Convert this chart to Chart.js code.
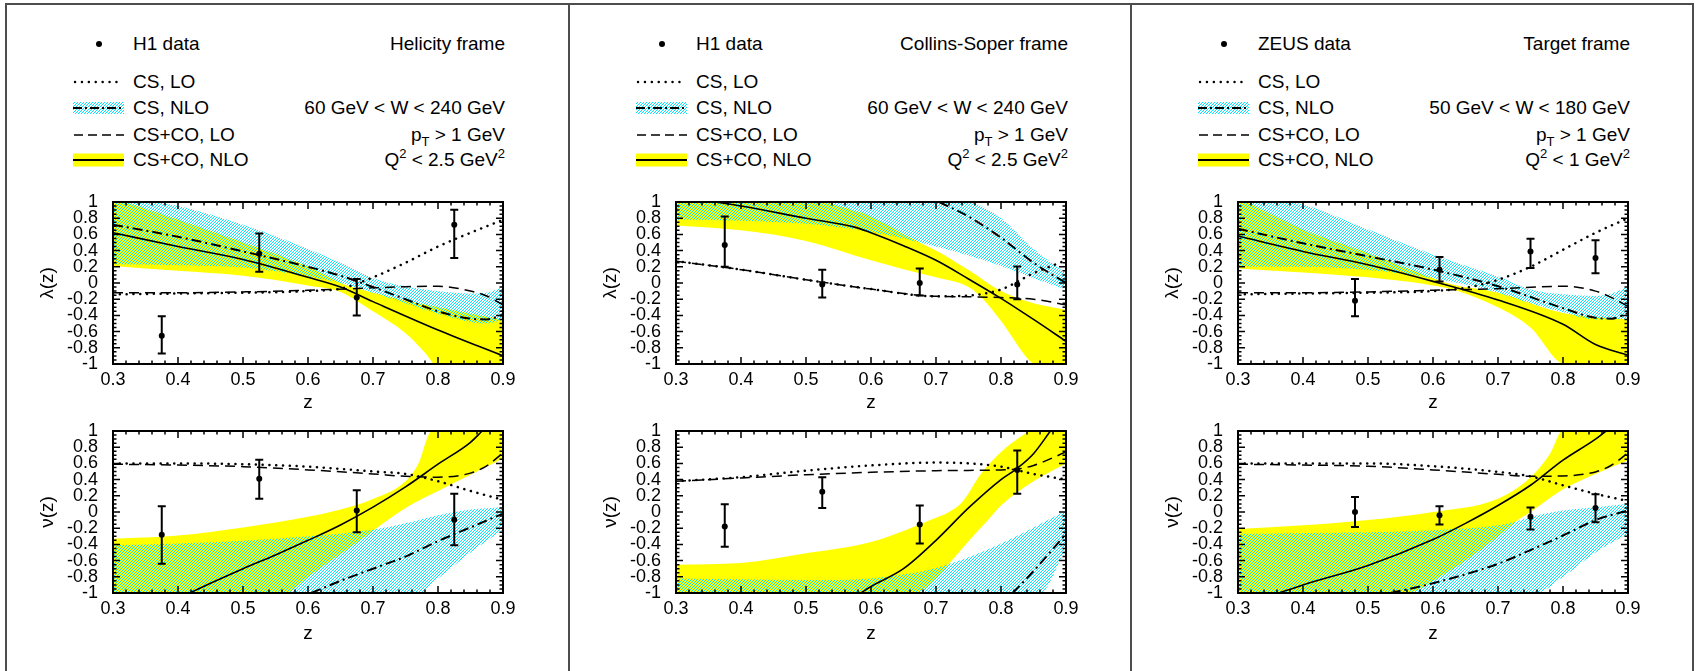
<!DOCTYPE html>
<html>
<head>
<meta charset="utf-8">
<script src="https://cdn.jsdelivr.net/npm/chart.js@4.4.1/dist/chart.umd.min.js"></script>
<style>
  body { margin: 0; background: #fff; overflow: hidden; font-family: "Liberation Sans", Arial, sans-serif; }
  #page { position: relative; width: 1697px; height: 671px; overflow: hidden; }
  .box { position: absolute; left: 5px; top: 3px; width: 1689px; height: 720px; border: 2px solid #4d4d4d; box-sizing: border-box; }
  .divider { position: absolute; top: 3px; width: 2px; height: 668px; background: #4d4d4d; }
  .txt { position: absolute; font-size: 19px; line-height: 20px; white-space: nowrap; color: #000; }
  .right { text-align: right; width: 320px; }
  .sub { font-size: 13px; position: relative; top: 5px; }
  .sup { font-size: 13px; position: relative; top: -8px; }
  canvas, svg { position: absolute; }
</style>
</head>
<body>
<div id="page">
  <div class="box"></div>
  <div class="divider" style="left:568px"></div>
  <div class="divider" style="left:1130px"></div>
</div>
<script>
// --- AXES ---
const zTicks = [0.3, 0.4, 0.5, 0.6, 0.7, 0.8, 0.9];
const valTicks = [-1, -0.8, -0.6, -0.4, -0.2, 0, 0.2, 0.4, 0.6, 0.8, 1];

// --- TEXTS ---
const expNames = ["H1 data", "H1 data", "ZEUS data"];
const frameNames = ["Helicity frame", "Collins-Soper frame", "Target frame"];
const wRanges = ["60 GeV &lt; W &lt; 240 GeV", "60 GeV &lt; W &lt; 240 GeV", "50 GeV &lt; W &lt; 180 GeV"];
const q2Cuts = ["2.5", "2.5", "1"];
const curveNames = ["CS, LO", "CS, NLO", "CS+CO, LO", "CS+CO, NLO"];

// --- HELICITY FRAME, lambda ---
const helLamZ = [0.375, 0.525, 0.675, 0.825];
const helLamVal = [-0.65, 0.36, -0.18, 0.72];
const helLamLo = [-0.87, 0.14, -0.40, 0.31];
const helLamHi = [-0.41, 0.61, 0.05, 0.905];
const helLamCsLo = [[0.3,-0.14],[0.4,-0.13],[0.5,-0.12],[0.6,-0.1],[0.65,-0.07],[0.7,0.07],[0.75,0.25],[0.8,0.45],[0.85,0.62],[0.9,0.78]];
const helLamCsNlo = [[0.3,0.72],[0.4,0.57],[0.5,0.39],[0.6,0.2],[0.65,0.09],[0.7,-0.05],[0.75,-0.2],[0.8,-0.35],[0.85,-0.44],[0.875,-0.45],[0.9,-0.39]];
const helLamCsNloUp = [[0.3,1.1],[0.4,0.95],[0.5,0.72],[0.6,0.42],[0.65,0.25],[0.7,0.06],[0.75,-0.04],[0.8,-0.1],[0.85,-0.13],[0.875,-0.12],[0.9,-0.05]];
const helLamCsNloDn = [[0.3,0.23],[0.4,0.22],[0.5,0.19],[0.6,0.08],[0.65,0.0],[0.7,-0.12],[0.75,-0.25],[0.8,-0.38],[0.85,-0.48],[0.875,-0.5],[0.9,-0.45]];
const helLamCoLo = [[0.3,-0.12],[0.4,-0.12],[0.5,-0.11],[0.6,-0.09],[0.7,-0.06],[0.75,-0.045],[0.8,-0.04],[0.85,-0.1],[0.875,-0.16],[0.9,-0.27]];
const helLamCoNlo = [[0.3,0.62],[0.4,0.45],[0.5,0.29],[0.6,0.07],[0.65,-0.05],[0.7,-0.23],[0.8,-0.58],[0.9,-0.9]];
const helLamCoNloUp = [[0.3,1.05],[0.4,0.78],[0.5,0.5],[0.6,0.2],[0.65,0.0],[0.7,-0.12],[0.75,-0.22],[0.8,-0.3],[0.85,-0.38],[0.9,-0.45]];
const helLamCoNloDn = [[0.3,0.21],[0.4,0.15],[0.5,0.09],[0.6,-0.03],[0.65,-0.11],[0.7,-0.35],[0.75,-0.62],[0.78,-0.86],[0.8,-1.05],[0.9,-1.2]];

// --- HELICITY FRAME, nu ---
const helNuZ = [0.375, 0.525, 0.675, 0.825];
const helNuVal = [-0.28, 0.41, 0.02, -0.095];
const helNuLo = [-0.64, 0.165, -0.25, -0.41];
const helNuHi = [0.07, 0.646, 0.267, 0.226];
const helNuCsLo = [[0.3,0.6],[0.4,0.6],[0.5,0.59],[0.6,0.56],[0.7,0.5],[0.75,0.47],[0.8,0.38],[0.85,0.26],[0.9,0.15]];
const helNuCsNlo = [[0.605,-1.0],[0.65,-0.85],[0.7,-0.7],[0.75,-0.55],[0.8,-0.36],[0.85,-0.19],[0.9,-0.02]];
const helNuCsNloUp = [[0.3,-0.41],[0.4,-0.39],[0.5,-0.355],[0.6,-0.3],[0.7,-0.22],[0.75,-0.14],[0.8,-0.04],[0.85,0.03],[0.9,0.06]];
const helNuCsNloDn = [[0.3,-1.1],[0.77,-1.0],[0.8,-0.82],[0.85,-0.5],[0.9,-0.22]];
const helNuCoLo = [[0.3,0.59],[0.4,0.58],[0.5,0.56],[0.6,0.52],[0.7,0.47],[0.75,0.44],[0.8,0.43],[0.85,0.48],[0.875,0.57],[0.9,0.73]];
const helNuCoNlo = [[0.418,-1.0],[0.45,-0.88],[0.5,-0.7],[0.55,-0.53],[0.6,-0.35],[0.65,-0.16],[0.7,0.06],[0.75,0.31],[0.8,0.59],[0.85,0.86],[0.868,1.0]];
const helNuCoNloUp = [[0.3,-0.33],[0.4,-0.29],[0.5,-0.19],[0.6,-0.06],[0.65,0.03],[0.7,0.16],[0.75,0.38],[0.77,0.6],[0.79,1.0],[0.9,1.1]];
const helNuCoNloDn = [[0.3,-1.05],[0.565,-1.0],[0.6,-0.8],[0.65,-0.52],[0.7,-0.23],[0.75,0.05],[0.8,0.26],[0.85,0.46],[0.9,0.66]];

// --- COLLINS-SOPER FRAME, lambda ---
const csLamZ = [0.375, 0.525, 0.675, 0.825];
const csLamVal = [0.47, -0.02, 0.0, -0.02];
const csLamLo = [0.2, -0.18, -0.155, -0.2];
const csLamHi = [0.82, 0.165, 0.18, 0.205];
const csLamCsLo = [[0.3,0.27],[0.4,0.165],[0.5,0.04],[0.6,-0.075],[0.7,-0.165],[0.75,-0.155],[0.8,-0.08],[0.85,0.12],[0.9,0.28]];
const csLamCsNlo = [[0.705,1.0],[0.75,0.82],[0.8,0.56],[0.85,0.25],[0.9,0.0]];
const csLamCsNloUp = [[0.3,1.1],[0.74,1.02],[0.8,0.8],[0.85,0.42],[0.9,0.12]];
const csLamCsNloDn = [[0.3,0.78],[0.4,0.77],[0.5,0.73],[0.6,0.63],[0.65,0.55],[0.7,0.45],[0.75,0.34],[0.8,0.21],[0.85,0.06],[0.9,-0.08]];
const csLamCoLo = [[0.3,0.27],[0.4,0.165],[0.5,0.04],[0.6,-0.075],[0.7,-0.165],[0.75,-0.17],[0.8,-0.18],[0.85,-0.2],[0.9,-0.27]];
const csLamCoNlo = [[0.36,1.0],[0.4,0.95],[0.5,0.8],[0.575,0.69],[0.6,0.62],[0.65,0.46],[0.7,0.28],[0.75,0.05],[0.8,-0.19],[0.85,-0.45],[0.9,-0.72]];
const csLamCoNloUp = [[0.3,1.05],[0.5,1.05],[0.55,0.95],[0.6,0.82],[0.65,0.6],[0.7,0.4],[0.75,0.16],[0.8,-0.1],[0.85,-0.25],[0.9,-0.33]];
const csLamCoNloDn = [[0.3,0.71],[0.4,0.65],[0.5,0.52],[0.6,0.28],[0.65,0.17],[0.7,0.07],[0.75,-0.05],[0.77,-0.18],[0.8,-0.47],[0.85,-1.0],[0.9,-1.1]];

// --- COLLINS-SOPER FRAME, nu ---
const csNuZ = [0.375, 0.525, 0.675, 0.825];
const csNuVal = [-0.18, 0.25, -0.155, 0.52];
const csNuLo = [-0.43, 0.05, -0.39, 0.225];
const csNuHi = [0.095, 0.43, 0.08, 0.76];
const csNuCsLo = [[0.3,0.38],[0.4,0.43],[0.5,0.51],[0.6,0.575],[0.7,0.61],[0.75,0.6],[0.8,0.56],[0.85,0.47],[0.9,0.4]];
const csNuCsNlo = [[0.818,-1.0],[0.85,-0.73],[0.9,-0.27]];
const csNuCsNloUp = [[0.3,-0.82],[0.4,-0.83],[0.5,-0.84],[0.6,-0.82],[0.65,-0.77],[0.7,-0.69],[0.75,-0.56],[0.8,-0.39],[0.85,-0.19],[0.9,0.02]];
const csNuCsNloDn = [[0.3,-1.1],[0.86,-1.0],[0.9,-0.45]];
const csNuCoLo = [[0.3,0.38],[0.4,0.42],[0.5,0.46],[0.6,0.49],[0.7,0.51],[0.8,0.52],[0.825,0.53],[0.85,0.575],[0.9,0.74]];
const csNuCoNlo = [[0.584,-1.0],[0.6,-0.92],[0.65,-0.7],[0.7,-0.35],[0.75,0.05],[0.8,0.4],[0.825,0.54],[0.85,0.72],[0.876,1.0]];
const csNuCoNloUp = [[0.3,-0.65],[0.4,-0.63],[0.5,-0.51],[0.6,-0.37],[0.7,-0.07],[0.72,0.0],[0.74,0.12],[0.77,0.48],[0.8,0.74],[0.83,0.93],[0.85,1.02],[0.9,1.1]];
const csNuCoNloDn = [[0.3,-1.1],[0.667,-1.0],[0.7,-0.82],[0.72,-0.64],[0.75,-0.36],[0.78,-0.1],[0.8,0.08],[0.85,0.38],[0.9,0.6]];

// --- TARGET FRAME, lambda ---
const tgLamZ = [0.48, 0.61, 0.75, 0.85];
const tgLamVal = [-0.22, 0.165, 0.39, 0.31];
const tgLamLo = [-0.41, 0.02, 0.185, 0.12];
const tgLamHi = [0.05, 0.32, 0.547, 0.527];
const tgLamCsLo = [[0.3,-0.14],[0.4,-0.13],[0.5,-0.12],[0.6,-0.1],[0.65,-0.06],[0.7,0.04],[0.75,0.2],[0.8,0.41],[0.85,0.62],[0.9,0.8]];
const tgLamCsNlo = [[0.3,0.67],[0.4,0.49],[0.5,0.33],[0.6,0.165],[0.7,-0.04],[0.8,-0.31],[0.85,-0.43],[0.875,-0.44],[0.9,-0.37]];
const tgLamCsNloUp = [[0.3,1.1],[0.4,0.97],[0.5,0.66],[0.6,0.35],[0.7,0.08],[0.75,-0.08],[0.8,-0.14],[0.85,-0.16],[0.875,-0.13],[0.9,-0.04]];
const tgLamCsNloDn = [[0.3,0.2],[0.4,0.2],[0.5,0.16],[0.6,0.06],[0.65,-0.02],[0.7,-0.12],[0.75,-0.25],[0.8,-0.36],[0.85,-0.45],[0.9,-0.44]];
const tgLamCoLo = [[0.3,-0.12],[0.4,-0.12],[0.5,-0.11],[0.6,-0.09],[0.7,-0.07],[0.8,-0.04],[0.85,-0.1],[0.875,-0.18],[0.9,-0.29]];
const tgLamCoNlo = [[0.3,0.58],[0.4,0.39],[0.5,0.225],[0.6,0.02],[0.7,-0.21],[0.8,-0.51],[0.85,-0.76],[0.9,-0.89]];
const tgLamCoNloUp = [[0.3,1.05],[0.4,0.66],[0.5,0.37],[0.6,0.06],[0.63,-0.02],[0.7,-0.12],[0.8,-0.37],[0.9,-0.45]];
const tgLamCoNloDn = [[0.3,0.18],[0.4,0.13],[0.5,0.07],[0.6,-0.03],[0.63,-0.08],[0.7,-0.3],[0.75,-0.55],[0.8,-1.0],[0.9,-1.1]];

// --- TARGET FRAME, nu ---
const tgNuZ = [0.48, 0.61, 0.75, 0.85];
const tgNuVal = [0.0, -0.04, -0.06, 0.05];
const tgNuLo = [-0.185, -0.155, -0.215, -0.125];
const tgNuHi = [0.185, 0.07, 0.055, 0.22];
const tgNuCsLo = [[0.3,0.6],[0.4,0.6],[0.5,0.6],[0.6,0.565],[0.7,0.495],[0.75,0.44],[0.8,0.33],[0.85,0.225],[0.9,0.135]];
const tgNuCsNlo = [[0.535,-1.0],[0.6,-0.88],[0.7,-0.64],[0.75,-0.47],[0.8,-0.29],[0.85,-0.1],[0.9,0.02]];
const tgNuCsNloUp = [[0.3,-0.27],[0.4,-0.26],[0.5,-0.25],[0.6,-0.225],[0.7,-0.165],[0.727,-0.12],[0.75,-0.06],[0.8,0.02],[0.85,0.06],[0.9,0.1]];
const tgNuCsNloDn = [[0.3,-1.1],[0.76,-1.0],[0.8,-0.8],[0.85,-0.5],[0.9,-0.27]];
const tgNuCoLo = [[0.3,0.59],[0.4,0.58],[0.5,0.565],[0.6,0.52],[0.7,0.465],[0.75,0.44],[0.8,0.445],[0.85,0.495],[0.875,0.58],[0.9,0.73]];
const tgNuCoNlo = [[0.363,-1.0],[0.4,-0.9],[0.5,-0.66],[0.6,-0.34],[0.65,-0.14],[0.7,0.08],[0.75,0.33],[0.8,0.64],[0.85,0.9],[0.866,1.0]];
const tgNuCoNloUp = [[0.3,-0.21],[0.4,-0.165],[0.5,-0.1],[0.6,0.0],[0.7,0.165],[0.75,0.43],[0.78,0.72],[0.8,1.02],[0.9,1.1]];
const tgNuCoNloDn = [[0.3,-1.1],[0.563,-1.0],[0.6,-0.85],[0.65,-0.6],[0.7,-0.3],[0.727,-0.12],[0.75,0.0],[0.8,0.28],[0.85,0.47],[0.9,0.64]];

// --- LAYOUT ---
const plotLefts = [113, 676, 1238];
const plotTops = [202, 431];
const titlePads = [10, 8];
const PW = 390, PH = 162;
const AXW = 85, PADT = 12, PADR = 15, AXH = 60;
const legendHeadY = 44;
const legendRowY = [82, 108, 135, 160];
const FONT = "'Liberation Sans', Arial, sans-serif";
const CYAN = "#00e4ff";
const YELLOW = "#ffff00";

const plots = [
  { col: 0, row: 0, title: "λ(z)", z: helLamZ, val: helLamVal, lo: helLamLo, hi: helLamHi, csLo: helLamCsLo, csNlo: helLamCsNlo, csUp: helLamCsNloUp, csDn: helLamCsNloDn, coLo: helLamCoLo, coNlo: helLamCoNlo, coUp: helLamCoNloUp, coDn: helLamCoNloDn },
  { col: 0, row: 1, title: "ν(z)", z: helNuZ, val: helNuVal, lo: helNuLo, hi: helNuHi, csLo: helNuCsLo, csNlo: helNuCsNlo, csUp: helNuCsNloUp, csDn: helNuCsNloDn, coLo: helNuCoLo, coNlo: helNuCoNlo, coUp: helNuCoNloUp, coDn: helNuCoNloDn },
  { col: 1, row: 0, title: "λ(z)", z: csLamZ, val: csLamVal, lo: csLamLo, hi: csLamHi, csLo: csLamCsLo, csNlo: csLamCsNlo, csUp: csLamCsNloUp, csDn: csLamCsNloDn, coLo: csLamCoLo, coNlo: csLamCoNlo, coUp: csLamCoNloUp, coDn: csLamCoNloDn },
  { col: 1, row: 1, title: "ν(z)", z: csNuZ, val: csNuVal, lo: csNuLo, hi: csNuHi, csLo: csNuCsLo, csNlo: csNuCsNlo, csUp: csNuCsNloUp, csDn: csNuCsNloDn, coLo: csNuCoLo, coNlo: csNuCoNlo, coUp: csNuCoNloUp, coDn: csNuCoNloDn },
  { col: 2, row: 0, title: "λ(z)", z: tgLamZ, val: tgLamVal, lo: tgLamLo, hi: tgLamHi, csLo: tgLamCsLo, csNlo: tgLamCsNlo, csUp: tgLamCsNloUp, csDn: tgLamCsNloDn, coLo: tgLamCoLo, coNlo: tgLamCoNlo, coUp: tgLamCoNloUp, coDn: tgLamCoNloDn },
  { col: 2, row: 1, title: "ν(z)", z: tgNuZ, val: tgNuVal, lo: tgNuLo, hi: tgNuHi, csLo: tgNuCsLo, csNlo: tgNuCsNlo, csUp: tgNuCsNloUp, csDn: tgNuCsNloDn, coLo: tgNuCoLo, coNlo: tgNuCoNlo, coUp: tgNuCoNloUp, coDn: tgNuCoNloDn }
];

const page = document.getElementById("page");

// --- HATCH PATTERN ---
function hatchTile() {
  const c = document.createElement("canvas");
  c.width = 3; c.height = 3;
  const g = c.getContext("2d");
  g.fillStyle = CYAN;
  for (let i = 0; i < 3; i++) g.fillRect(i, 2 - i, 1, 1);
  return c;
}
const tile = hatchTile();

// --- LEGENDS ---
function addText(html, x, y, cls) {
  const d = document.createElement("div");
  d.className = "txt" + (cls ? " " + cls : "");
  d.innerHTML = html;
  d.style.top = (y - 10) + "px";
  d.style.left = (cls === "right" ? x - 320 : x) + "px";
  page.appendChild(d);
}

function sampleSvg(x, y, kind) {
  let inner = "";
  if (kind === 1) {
    inner += `<defs><pattern id="h${x}" width="3" height="3" patternUnits="userSpaceOnUse">`;
    for (let i = 0; i < 3; i++) inner += `<rect x="${i}" y="${2 - i}" width="1" height="1" fill="${CYAN}"/>`;
    inner += `</pattern></defs><rect x="0" y="1" width="51" height="12" fill="url(#h${x})" shape-rendering="crispEdges"/>`;
    inner += `<line x1="0" y1="7" x2="51" y2="7" stroke="#000" stroke-width="2" stroke-dasharray="9 3 2 3"/>`;
  } else if (kind === 3) {
    inner += `<rect x="0" y="0.5" width="51" height="13" fill="${YELLOW}"/>`;
    inner += `<line x1="0" y1="7" x2="51" y2="7" stroke="#000" stroke-width="1.8"/>`;
  } else if (kind === 0) {
    inner += `<line x1="2" y1="7" x2="50" y2="7" stroke="#000" stroke-width="2.4" stroke-linecap="round" stroke-dasharray="0.1 6.8"/>`;
  } else {
    inner += `<line x1="1" y1="7" x2="51" y2="7" stroke="#000" stroke-width="1.5" stroke-dasharray="9 5"/>`;
  }
  const s = document.createElementNS("http://www.w3.org/2000/svg", "svg");
  s.setAttribute("width", "52");
  s.setAttribute("height", "14");
  s.style.left = x + "px";
  s.style.top = (y - 7) + "px";
  s.innerHTML = inner;
  page.appendChild(s);
}

plotLefts.forEach((pl, i) => {
  const pr = pl + PW + 2;
  const dot = document.createElement("div");
  dot.style.cssText = `position:absolute;left:${pl - 17}px;top:${legendHeadY - 3}px;width:6px;height:6px;border-radius:3px;background:#000`;
  page.appendChild(dot);
  addText(expNames[i], pl + 20, legendHeadY);
  addText(frameNames[i], pr, legendHeadY, "right");
  curveNames.forEach((n, k) => {
    sampleSvg(pl - 40, legendRowY[k], k);
    addText(n, pl + 20, legendRowY[k]);
  });
  addText(wRanges[i], pr, legendRowY[1], "right");
  addText('p<span class="sub">T</span> &gt; 1 GeV', pr, legendRowY[2], "right");
  addText('Q<span class="sup">2</span> &lt; ' + q2Cuts[i] + ' GeV<span class="sup">2</span>', pr, legendRowY[3], "right");
});

// --- PLUGINS ---
const framePlugin = {
  id: "frameTicks",
  afterDraw(chart) {
    const { ctx, chartArea: a, scales: { x, y } } = chart;
    ctx.save();
    ctx.strokeStyle = "#000";
    ctx.lineWidth = 1.5;
    ctx.beginPath();
    for (let i = 0; i <= 30; i++) {
      const px = x.getPixelForValue(0.3 + i * 0.02);
      const len = i % 5 === 0 ? 7 : 3.5;
      ctx.moveTo(px, a.bottom); ctx.lineTo(px, a.bottom - len);
      ctx.moveTo(px, a.top); ctx.lineTo(px, a.top + len);
    }
    for (let i = 0; i <= 40; i++) {
      const py = y.getPixelForValue(-1 + i * 0.05);
      const len = i % 4 === 0 ? 7 : 3.5;
      ctx.moveTo(a.left, py); ctx.lineTo(a.left + len, py);
      ctx.moveTo(a.right, py); ctx.lineTo(a.right - len, py);
    }
    ctx.stroke();
    ctx.lineWidth = 2;
    ctx.strokeRect(a.left, a.top, a.right - a.left, a.bottom - a.top);
    ctx.restore();
  }
};

const errorBarPlugin = {
  id: "errorBars",
  afterDatasetsDraw(chart, args, opts) {
    const { ctx, scales: { x, y } } = chart;
    ctx.save();
    ctx.strokeStyle = "#000";
    ctx.lineWidth = 2;
    ctx.beginPath();
    opts.z.forEach((z, i) => {
      const px = x.getPixelForValue(z);
      const p1 = y.getPixelForValue(opts.lo[i]);
      const p2 = y.getPixelForValue(opts.hi[i]);
      ctx.moveTo(px, p1); ctx.lineTo(px, p2);
      ctx.moveTo(px - 4, p1); ctx.lineTo(px + 4, p1);
      ctx.moveTo(px - 4, p2); ctx.lineTo(px + 4, p2);
    });
    ctx.stroke();
    ctx.restore();
  }
};

// --- CHARTS ---
const pts = arr => arr.map(p => ({ x: p[0], y: p[1] }));
const fmt = v => String(Math.round(v * 10) / 10);
const tickFont = { family: FONT, size: 18 };
const titleFont = { family: FONT, size: 19 };

function curve(data, dash, width, order) {
  return {
    data: pts(data), borderColor: "#000", borderWidth: width, borderDash: dash,
    borderCapStyle: dash.length === 2 && dash[0] < 1 ? "round" : "butt",
    pointRadius: 0, fill: false, cubicInterpolationMode: "monotone", order: order
  };
}
function bandEdge(data, fill, color, order) {
  return {
    data: pts(data), borderColor: "rgba(0,0,0,0)", borderWidth: 1, pointRadius: 0,
    fill: fill, backgroundColor: color, cubicInterpolationMode: "monotone", order: order
  };
}

plots.forEach(p => {
  const canvas = document.createElement("canvas");
  const w = AXW + PW + PADR, h = PADT + PH + AXH;
  canvas.width = w; canvas.height = h;
  canvas.style.left = (plotLefts[p.col] - AXW) + "px";
  canvas.style.top = (plotTops[p.row] - PADT) + "px";
  page.appendChild(canvas);
  const hatch = canvas.getContext("2d").createPattern(tile, "repeat");

  new Chart(canvas.getContext("2d"), {
    type: "line",
    data: {
      datasets: [
        { data: p.z.map((z, i) => ({ x: z, y: p.val[i] })), showLine: false, pointRadius: 3, pointBackgroundColor: "#000", pointBorderWidth: 0, order: 0 },
        curve(p.coNlo, [], 1.6, 1),
        curve(p.coLo, [10, 6], 1.5, 2),
        curve(p.csNlo, [10, 4, 2, 4], 2, 3),
        curve(p.csLo, [0.1, 6.7], 2.5, 4),
        bandEdge(p.csDn, false, hatch, 5),
        bandEdge(p.csUp, "-1", hatch, 6),
        bandEdge(p.coDn, false, YELLOW, 7),
        bandEdge(p.coUp, "-1", YELLOW, 8)
      ]
    },
    options: {
      responsive: false,
      animation: false,
      devicePixelRatio: 1,
      events: [],
      layout: { padding: { top: PADT, right: PADR, left: 0, bottom: 0 } },
      plugins: {
        legend: { display: false },
        tooltip: { enabled: false },
        errorBars: { z: p.z, lo: p.lo, hi: p.hi }
      },
      scales: {
        x: {
          type: "linear", min: 0.3, max: 0.9,
          afterBuildTicks: s => { s.ticks = zTicks.map(v => ({ value: v })); },
          afterFit: s => { s.height = AXH; s.paddingLeft = 0; s.paddingRight = 0; },
          ticks: { autoSkip: false, maxRotation: 0, padding: 5, color: "#000", font: tickFont, callback: fmt },
          grid: { display: false, drawTicks: false },
          border: { display: false },
          title: { display: true, text: "z", color: "#000", font: titleFont, padding: { top: 0, bottom: titlePads[p.row] } }
        },
        y: {
          type: "linear", min: -1, max: 1,
          afterBuildTicks: s => { s.ticks = valTicks.map(v => ({ value: v })); },
          afterFit: s => { s.width = AXW; s.paddingTop = 0; s.paddingBottom = 0; },
          ticks: { autoSkip: false, padding: 15, color: "#000", font: tickFont, callback: fmt },
          grid: { display: false, drawTicks: false },
          border: { display: false },
          title: { display: true, text: p.title, color: "#000", font: titleFont, padding: { top: 8, bottom: 0 } }
        }
      }
    },
    plugins: [framePlugin, errorBarPlugin]
  });
});
</script>
</body>
</html>
